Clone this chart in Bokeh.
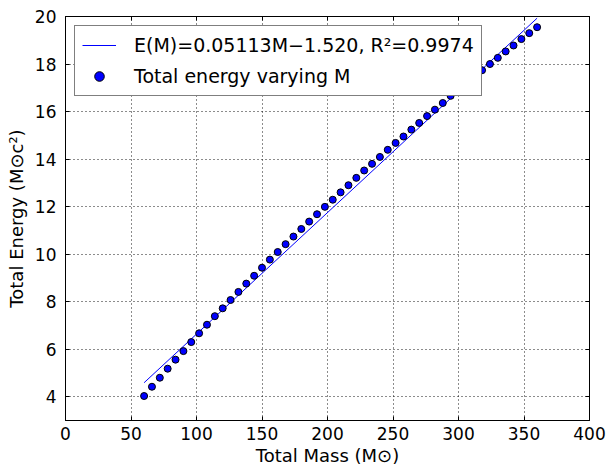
from bokeh.plotting import figure
from bokeh.models import Legend, LegendItem, LinearAxis, FixedTicker, Range1d
from bokeh.embed import file_html
from bokeh.resources import INLINE

# ---- data ----
mass = [60, 66, 72, 78, 84, 90, 96, 102, 108, 114, 120, 126, 132, 138, 144,
        150, 156, 162, 168, 174, 180, 186, 192, 198, 204, 210, 216, 222, 228,
        234, 240, 246, 252, 258, 264, 270, 276, 282, 288, 294, 300, 306, 312,
        318, 324, 330, 336, 342, 348, 354, 360]
energy = [4.03, 4.42, 4.80, 5.18, 5.56, 5.92, 6.30, 6.67, 7.03, 7.39, 7.72,
          8.07, 8.41, 8.76, 9.09, 9.43, 9.77, 10.09, 10.42, 10.74, 11.06,
          11.37, 11.68, 11.99, 12.29, 12.60, 12.90, 13.21, 13.52, 13.80, 14.09,
          14.39, 14.68, 14.95, 15.24, 15.52, 15.81, 16.08, 16.36, 16.66, 16.93,
          17.20, 17.47, 17.74, 18.00, 18.26, 18.53, 18.78, 19.05, 19.30, 19.55]
fit_mass = [60, 360]
fit_energy = [4.59, 19.93]

x_ticks = [0, 50, 100, 150, 200, 250, 300, 350, 400]
y_ticks = [4, 6, 8, 10, 12, 14, 16, 18, 20]

fit_label = "E(M)=0.05113M\u22121.520, R\u00b2=0.9974"
data_label = "Total energy varying M"
x_title = "Total Mass (M\u2299)"
y_title = "Total Energy (M\u2299c\u00b2)"

p = figure(width=609, height=468, x_range=Range1d(0, 400), y_range=Range1d(3, 20),
           output_backend="svg", toolbar_location=None,
           min_border_left=65, min_border_right=20, min_border_top=16,
           min_border_bottom=48)

p.background_fill_color = "white"
p.border_fill_color = "white"
p.outline_line_color = "black"
p.outline_line_width = 1
p.outline_line_alpha = 1

line_r = p.line(fit_mass, fit_energy, line_color="#0000ff", line_width=1)
sc_r = p.scatter(mass, energy, size=7, fill_color="#0000ff",
                 line_color="black", line_width=1)

for ax, ticks in ((p.xaxis[0], x_ticks), (p.yaxis[0], y_ticks)):
    ax.ticker = FixedTicker(ticks=ticks)
    ax.major_tick_in = 4
    ax.major_tick_out = 0
    ax.minor_tick_line_color = None
    ax.axis_line_color = "black"
    ax.major_tick_line_color = "black"
    ax.major_label_text_font = "DejaVu Sans"
    ax.major_label_text_font_size = "17px"
    ax.major_label_text_color = "black"
    ax.axis_label_text_font = "DejaVu Sans"
    ax.axis_label_text_font_size = "18px"
    ax.axis_label_text_font_style = "normal"
    ax.axis_label_text_color = "black"

p.xaxis.axis_label = x_title
p.yaxis.axis_label = y_title
p.xaxis.major_label_standoff = 6
p.xaxis.axis_label_standoff = 2
p.yaxis.major_label_standoff = 9
p.yaxis.axis_label_standoff = 5

# tick marks on the top and right edges
top_ax = LinearAxis(ticker=FixedTicker(ticks=x_ticks),
                    major_label_overrides={t: "" for t in x_ticks},
                    major_label_text_font_size="0px", major_label_standoff=0,
                    major_tick_in=4, major_tick_out=0, minor_tick_line_color=None,
                    axis_line_color="black")
right_ax = LinearAxis(ticker=FixedTicker(ticks=y_ticks),
                      major_label_overrides={t: "" for t in y_ticks},
                      major_label_text_font_size="0px", major_label_standoff=0,
                      major_tick_in=4, major_tick_out=0, minor_tick_line_color=None,
                      axis_line_color="black")
p.add_layout(top_ax, "above")
p.add_layout(right_ax, "right")

p.xgrid.ticker = FixedTicker(ticks=x_ticks)
p.ygrid.ticker = FixedTicker(ticks=y_ticks)
p.grid.grid_line_color = "black"
p.grid.grid_line_dash = "1 3"
p.grid.grid_line_width = 1
p.grid.grid_line_alpha = 0.9

legend = Legend(items=[LegendItem(label=fit_label, renderers=[line_r]),
                       LegendItem(label=data_label, renderers=[sc_r])],
                location="top_left", margin=9, padding=7, spacing=7,
                label_height=24, glyph_height=24, glyph_width=34,
                label_standoff=18, label_text_font="DejaVu Sans",
                label_text_font_size="19px", label_text_color="black",
                border_line_color="black", border_line_width=1,
                background_fill_color="white", background_fill_alpha=1)
p.add_layout(legend)

open("out.html", "w").write(file_html(p, INLINE))
